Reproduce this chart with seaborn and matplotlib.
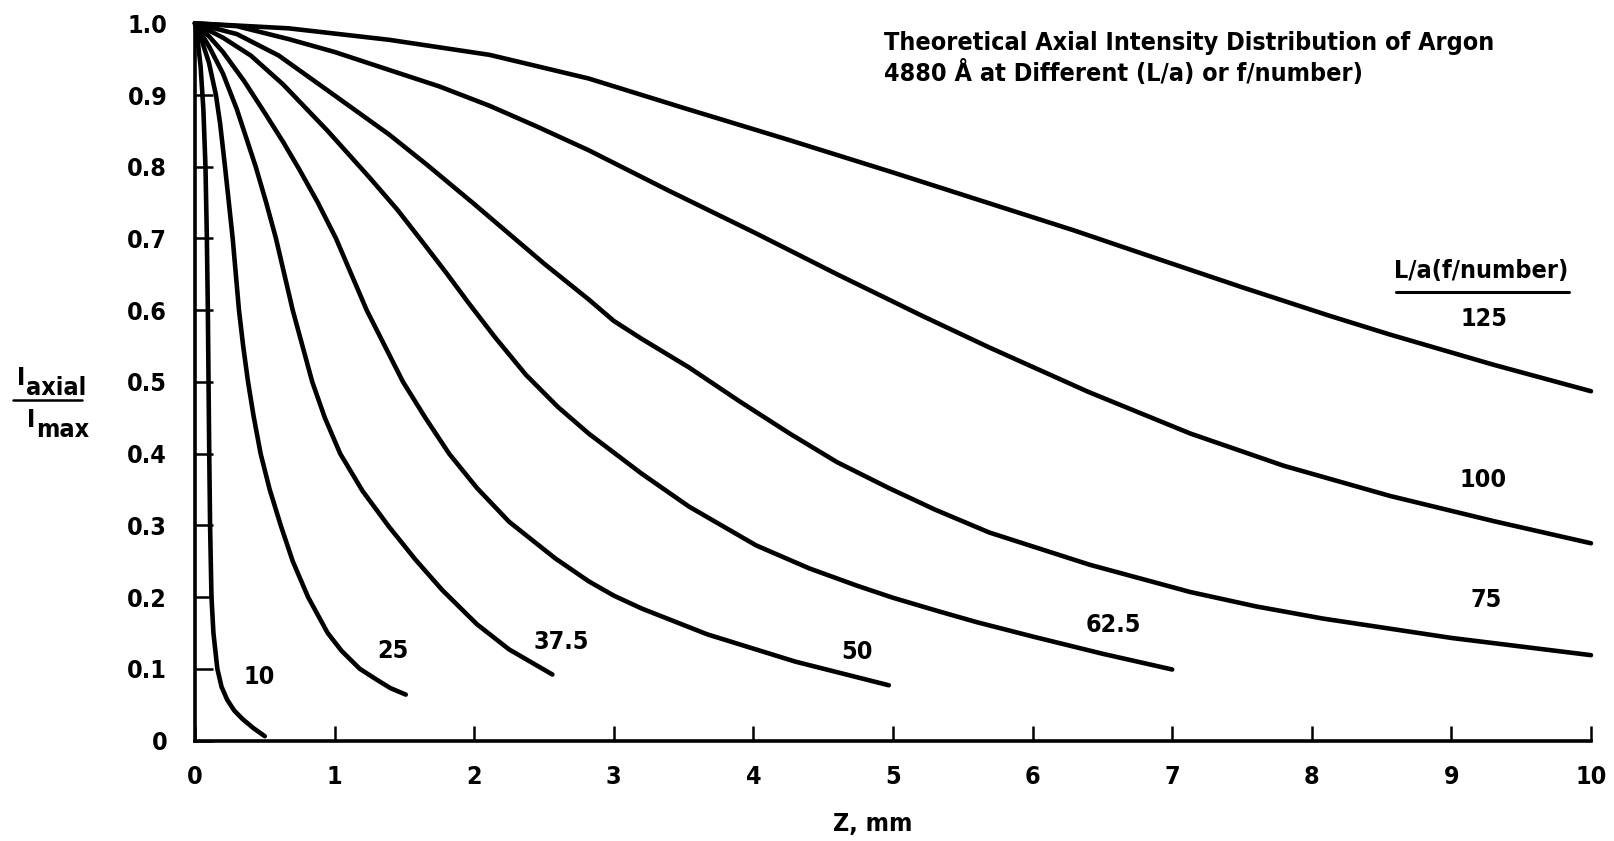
import numpy as np
import pandas as pd
import matplotlib
matplotlib.use("Agg")
import matplotlib.pyplot as plt
import seaborn as sns
from matplotlib import font_manager as fm

# ---- data ----
z_10 = [0, 0.02, 0.04, 0.06, 0.075, 0.085, 0.092, 0.097, 0.102, 0.108, 0.118, 0.132, 0.16, 0.19, 0.23, 0.28, 0.34, 0.42, 0.50]
i_10 = [1.0, 0.975, 0.94, 0.88, 0.80, 0.70, 0.60, 0.50, 0.40, 0.30, 0.20, 0.15, 0.10, 0.075, 0.057, 0.042, 0.030, 0.017, 0.006]

z_25 = [0, 0.05, 0.10, 0.15, 0.18, 0.215, 0.27, 0.315, 0.345, 0.38, 0.42, 0.47, 0.535, 0.614, 0.70, 0.81, 0.95, 1.05, 1.18, 1.30, 1.40, 1.51]
i_25 = [1.0, 0.975, 0.945, 0.90, 0.86, 0.80, 0.70, 0.60, 0.55, 0.50, 0.452, 0.40, 0.35, 0.30, 0.25, 0.20, 0.15, 0.125, 0.10, 0.085, 0.073, 0.064]

z_375 = [0, 0.10, 0.20, 0.30, 0.435, 0.51, 0.58, 0.70, 0.77, 0.84, 0.93, 1.04, 1.20, 1.39, 1.58, 1.77, 2.02, 2.25, 2.56]
i_375 = [1.0, 0.968, 0.93, 0.88, 0.80, 0.75, 0.70, 0.60, 0.55, 0.50, 0.45, 0.40, 0.348, 0.298, 0.252, 0.21, 0.162, 0.127, 0.092]

z_50 = [0, 0.10, 0.20, 0.35, 0.50, 0.63, 0.745, 0.88, 1.01, 1.12, 1.23, 1.36, 1.49, 1.65, 1.82, 2.02, 2.25, 2.58, 2.82, 3.00, 3.20, 3.67, 4.30, 4.97]
i_50 = [1.0, 0.982, 0.96, 0.92, 0.875, 0.835, 0.797, 0.75, 0.70, 0.65, 0.60, 0.55, 0.50, 0.45, 0.40, 0.352, 0.305, 0.254, 0.222, 0.202, 0.184, 0.148, 0.11, 0.077]

z_625 = [0, 0.20, 0.40, 0.63, 0.95, 1.25, 1.45, 1.63, 1.80, 1.96, 2.15, 2.37, 2.60, 2.82, 3.20, 3.54, 4.02, 4.40, 4.74, 5.00, 5.33, 5.60, 6.00, 6.50, 7.00]
i_625 = [1.0, 0.98, 0.955, 0.915, 0.85, 0.785, 0.74, 0.695, 0.652, 0.61, 0.562, 0.51, 0.465, 0.428, 0.372, 0.326, 0.272, 0.24, 0.216, 0.199, 0.18, 0.165, 0.145, 0.121, 0.099]

z_75 = [0, 0.30, 0.60, 0.96, 1.39, 1.66, 2.00, 2.50, 2.82, 3.00, 3.20, 3.54, 3.90, 4.26, 4.60, 4.97, 5.30, 5.69, 6.41, 7.13, 7.60, 8.08, 9.00, 10.0]
i_75 = [1.0, 0.985, 0.955, 0.905, 0.845, 0.803, 0.748, 0.665, 0.615, 0.585, 0.56, 0.52, 0.473, 0.428, 0.388, 0.352, 0.322, 0.29, 0.245, 0.207, 0.187, 0.17, 0.143, 0.119]

z_100 = [0, 0.30, 0.67, 1.00, 1.39, 1.75, 2.11, 2.45, 2.82, 3.40, 4.02, 4.60, 5.21, 5.69, 6.40, 7.13, 7.80, 8.56, 9.30, 10.0]
i_100 = [1.0, 0.996, 0.978, 0.96, 0.935, 0.912, 0.885, 0.856, 0.823, 0.766, 0.707, 0.65, 0.592, 0.548, 0.486, 0.428, 0.383, 0.341, 0.306, 0.275]

z_125 = [0, 0.67, 1.39, 2.11, 2.82, 3.50, 4.26, 5.00, 5.69, 6.30, 6.89, 7.50, 8.13, 8.56, 9.30, 10.0]
i_125 = [1.0, 0.993, 0.977, 0.956, 0.923, 0.882, 0.837, 0.792, 0.749, 0.711, 0.672, 0.632, 0.592, 0.566, 0.524, 0.487]

f_numbers = ["10", "25", "37.5", "50", "62.5", "75", "100", "125"]
label_z = [0.46, 1.42, 2.62, 4.74, 6.58, 9.25, 9.23, 9.23]
label_i = [0.089, 0.125, 0.137, 0.123, 0.161, 0.196, 0.363, 0.588]

x_ticks = [0, 1, 2, 3, 4, 5, 6, 7, 8, 9, 10]
y_ticks = [0, 0.1, 0.2, 0.3, 0.4, 0.5, 0.6, 0.7, 0.8, 0.9, 1.0]
y_ticklabels = ["0", "0.1", "0.2", "0.3", "0.4", "0.5", "0.6", "0.7", "0.8", "0.9", "1.0"]

title_text = "Theoretical Axial Intensity Distribution of Argon\n4880 Å at Different (L/a) or f/number)"
legend_title = "L/a(f/number)"
x_label = "Z, mm"

# ---- build long table ----
zs = [z_10, z_25, z_375, z_50, z_625, z_75, z_100, z_125]
iss = [i_10, i_25, i_375, i_50, i_625, i_75, i_100, i_125]
rows = []
for name, zz, ii in zip(f_numbers, zs, iss):
    for k, (a, b) in enumerate(zip(zz, ii)):
        rows.append({"z": a, "I": b, "curve": name, "order": k})
df = pd.DataFrame(rows)

# ---- style ----
sns.set_theme(style="white")
names = {f.name for f in fm.fontManager.ttflist}
if "Liberation Sans Narrow" in names:
    FAM, STRETCH = "Liberation Sans Narrow", "normal"
else:
    FAM, STRETCH = "DejaVu Sans", "condensed"
plt.rcParams["font.family"] = [FAM, "DejaVu Sans"]
plt.rcParams["font.weight"] = "bold"
plt.rcParams["font.stretch"] = STRETCH

FS = 18
fig = plt.figure(figsize=(16.15, 8.41), dpi=100)
ax = fig.add_axes([195 / 1615, 1 - 740.5 / 841, (1591 - 195) / 1615, (740.5 - 23.3) / 841])

sns.lineplot(data=df, x="z", y="I", units="curve", estimator=None, sort=False,
             color="black", linewidth=3.3, ax=ax, legend=False)
for ln in ax.lines:
    ln.set_clip_on(False)
    ln.set_solid_capstyle("round")
    ln.set_solid_joinstyle("round")

ax.set_xlim(0, 10)
ax.set_ylim(0, 1)
ax.set_xticks(x_ticks)
ax.set_xticklabels([str(v) for v in x_ticks])
ax.set_yticks(y_ticks)
ax.set_yticklabels(y_ticklabels)
for s in ["top", "right"]:
    ax.spines[s].set_visible(False)
for s in ["left", "bottom"]:
    ax.spines[s].set_linewidth(2.6)
    ax.spines[s].set_color("black")
ax.tick_params(axis="y", direction="in", length=13, width=1.8, pad=20,
               labelsize=FS, colors="black", left=True)
ax.tick_params(axis="x", direction="in", length=11, width=1.8, pad=18,
               labelsize=FS, colors="black", bottom=True)
for t in ax.get_xticklabels() + ax.get_yticklabels():
    t.set_fontweight("bold")
ax.set_xlabel("")
ax.set_ylabel("")

# curve labels
for name, zx, iy in zip(f_numbers, label_z, label_i):
    ax.text(zx, iy, name, fontsize=FS, ha="center", va="center", color="black")

# legend header with underline
ax.text(9.21, 0.655, legend_title, fontsize=FS, ha="center", va="center", color="black")
ax.plot([8.60, 9.84], [0.626, 0.626], color="black", lw=2.2, clip_on=False)

# title
fig.text(884 / 1615, 1 - 31 / 841, title_text, fontsize=FS, ha="left", va="top",
         color="black", linespacing=1.22)

# x label
fig.text(873 / 1615, 1 - 824 / 841, x_label, fontsize=FS, ha="center", va="center", color="black")

# y label as fraction
fig.text(17 / 1615, 1 - 378 / 841, "I", fontsize=FS, ha="left", va="center", color="black")
fig.text(26 / 1615, 1 - 388 / 841, "axial", fontsize=FS, ha="left", va="center", color="black")
fig.add_artist(plt.Line2D([13 / 1615, 82 / 1615], [1 - 400 / 841, 1 - 400 / 841],
                          color="black", lw=1.8))
fig.text(27 / 1615, 1 - 420 / 841, "I", fontsize=FS, ha="left", va="center", color="black")
fig.text(36 / 1615, 1 - 430 / 841, "max", fontsize=FS, ha="left", va="center", color="black")

fig.savefig("out.png", dpi=100, facecolor="white")
